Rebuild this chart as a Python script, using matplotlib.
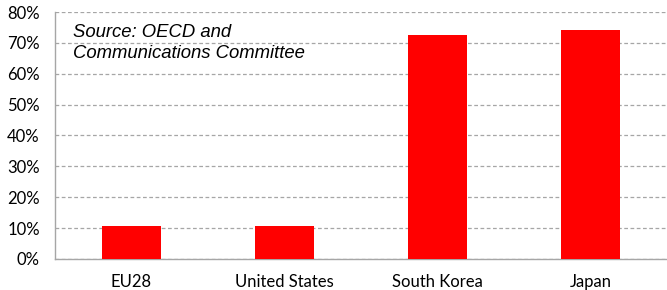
import matplotlib
matplotlib.use("Agg")
import matplotlib.pyplot as plt
from matplotlib.ticker import PercentFormatter

# datos
countries = ['EU28', 'United States', 'South Korea', 'Japan']
share = [10.8, 10.8, 72.6, 74.2]
yticks = [0, 10, 20, 30, 40, 50, 60, 70, 80]

fig = plt.figure(figsize=(6.67, 2.9), dpi=100)
ax = fig.add_axes([0.0825, 0.107, 0.9175, 0.8516])

ax.bar(countries, share, width=0.39, color='#ff0000', zorder=3)

ax.set_ylim(0, 80)
ax.set_xlim(-0.5, 3.5)
ax.set_yticks(yticks)
ax.yaxis.set_major_formatter(PercentFormatter(decimals=0))
ax.grid(True, axis='y', linestyle=(0, (3, 2)), color='#a6a6a6', linewidth=0.9, zorder=0)

for side in ['top', 'right']:
    ax.spines[side].set_visible(False)
for side in ['left', 'bottom']:
    ax.spines[side].set_color('#a6a6a6')
    ax.spines[side].set_linewidth(1.0)

ax.tick_params(axis='both', length=0, labelsize=12, colors='#000000')
ax.tick_params(axis='y', pad=11)
ax.tick_params(axis='x', pad=11)
for lbl in ax.get_xticklabels() + ax.get_yticklabels():
    lbl.set_family('Lato')

ax.text(73 / 667, 1 - 24 / 290, 'Source: OECD and\nCommunications Committee',
        transform=fig.transFigure, ha='left', va='top', fontsize=13.3,
        style='italic', family='Liberation Sans', linespacing=1.3)

plt.savefig('out.png', dpi=100)
